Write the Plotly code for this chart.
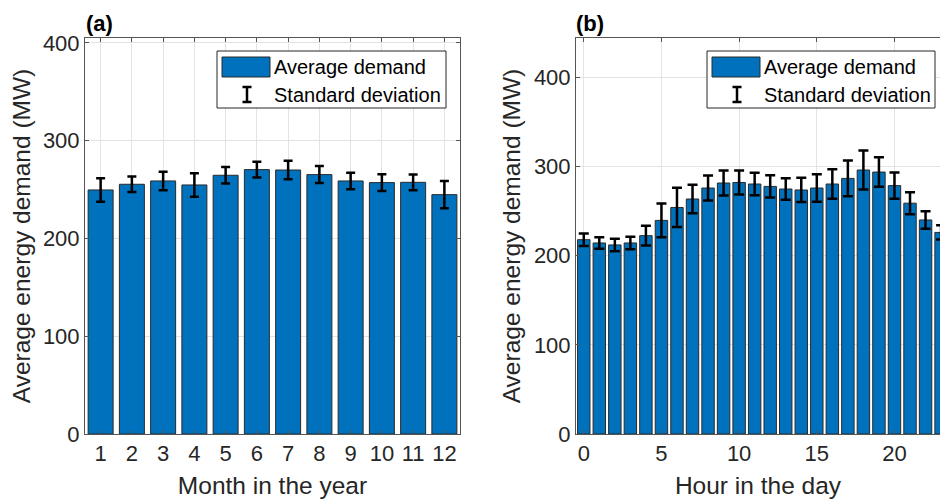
import plotly.graph_objects as go

# ---------------- data ----------------
months = list(range(1, 13))
month_mean = [249.6, 255.4, 258.8, 254.7, 264.6, 270.4, 270.0, 265.3, 258.8, 257.1, 257.4, 244.8]
month_std = [12.0, 8.0, 9.5, 12.0, 8.5, 8.0, 9.5, 8.7, 8.5, 8.5, 8.0, 14.0]

hours = list(range(0, 24))
hour_mean = [217.9, 214.2, 212.0, 214.2, 222.4, 239.5, 254.0, 263.5, 275.8, 281.4, 282.0, 280.3,
             277.6, 274.7, 273.6, 275.8, 280.3, 286.6, 296.0, 293.7, 278.5, 258.8, 240.0, 226.0]
hour_std = [7.0, 6.5, 7.0, 7.0, 11.0, 19.0, 22.0, 16.0, 14.0, 14.0, 13.5, 12.7,
            12.5, 12.0, 13.6, 15.5, 16.6, 20.0, 22.0, 16.5, 14.7, 12.3, 9.8, 8.0]

month_ticks = months
hour_ticks = [0, 5, 10, 15, 20]
y_ticks = [0, 100, 200, 300, 400]

legend_labels = ["Average demand", "Standard deviation"]
panel_labels = ["(a)", "(b)"]

# ---------------- style ----------------
W, H = 940, 499
FONT = "Liberation Sans, Arial, Helvetica, sans-serif"
BAR_COLOR = "#0072BD"
AX_COLOR = "#262626"
GRID = "#e3e3e3"


def px(x):
    return x / W


def py(y):
    return 1 - y / H


fig = go.Figure()

bar_style = dict(
    marker=dict(color=BAR_COLOR, line=dict(color="#2a2a2a", width=1)),
    width=0.8,
    showlegend=False,
)

fig.add_trace(go.Bar(
    x=months, y=month_mean, name=legend_labels[0],
    error_y=dict(type="data", array=month_std, color="black", thickness=2.5, width=4.5),
    xaxis="x", yaxis="y", **bar_style))

fig.add_trace(go.Bar(
    x=hours, y=hour_mean, name=legend_labels[0],
    error_y=dict(type="data", array=hour_std, color="black", thickness=2.5, width=5),
    xaxis="x2", yaxis="y2", **bar_style))

tickfont = dict(family=FONT, size=22, color=AX_COLOR)
titlefont = dict(family=FONT, size=24.5, color=AX_COLOR)

common_axis = dict(
    showline=True, linecolor="#555555", linewidth=1,
    ticks="inside", ticklen=4, tickcolor="#555555", tickwidth=1,
    showgrid=True, gridcolor=GRID, gridwidth=1,
    zeroline=False, tickfont=tickfont, fixedrange=True, automargin=False,
)

ydom = [py(434), py(38)]

fig.update_layout(
    width=W, height=H,
    margin=dict(l=0, r=0, t=0, b=0, autoexpand=False),
    paper_bgcolor="white", plot_bgcolor="white",
    bargap=0.2, showlegend=False,
    xaxis=dict(domain=[px(85), px(460)], range=[0.5, 12.5], tickvals=month_ticks,
               anchor="y", mirror="ticks",
               title=dict(text="Month in the year", font=titlefont),
               **common_axis),
    yaxis=dict(domain=ydom, range=[0, 405], tickvals=y_ticks, anchor="x", mirror="ticks",
               title=dict(text="Average energy demand (MW)", font=titlefont, standoff=5),
               **common_axis),
    xaxis2=dict(domain=[px(576), 1.0], range=[-0.5, 22.93], tickvals=hour_ticks,
                anchor="y2", mirror="ticks",
                title=dict(text="Hour in the day", font=titlefont),
                **common_axis),
    yaxis2=dict(domain=ydom, range=[0, 444], tickvals=y_ticks, anchor="x2", mirror=False,
                title=dict(text="Average energy demand (MW)", font=titlefont, standoff=6),
                **common_axis),
)

# ---------------- panel labels ----------------
for lab, xpix in zip(panel_labels, [84, 574]):
    fig.add_annotation(text="<b>%s</b>" % lab, x=px(xpix), y=py(23), xref="paper", yref="paper",
                       xanchor="left", yanchor="middle", showarrow=False,
                       font=dict(family=FONT, size=22, color="black"))

# ---------------- manual legends (MATLAB style) ----------------
def add_legend(x0, y0, x1, y1):
    fig.add_shape(type="rect", xref="paper", yref="paper",
                  x0=px(x0), x1=px(x1), y0=py(y0), y1=py(y1),
                  line=dict(color="#262626", width=1), fillcolor="white", layer="above")
    fig.add_shape(type="rect", xref="paper", yref="paper",
                  x0=px(x0 + 5), x1=px(x0 + 53), y0=py(y0 + 6), y1=py(y0 + 26),
                  line=dict(color="#2a2a2a", width=1), fillcolor=BAR_COLOR, layer="above")
    cx = x0 + 30
    ytop, ybot = y0 + 36, y0 + 51
    fig.add_shape(type="line", xref="paper", yref="paper", x0=px(cx), x1=px(cx),
                  y0=py(ytop), y1=py(ybot), line=dict(color="black", width=2.5), layer="above")
    for yy in (ytop, ybot):
        fig.add_shape(type="line", xref="paper", yref="paper", x0=px(cx - 4.5), x1=px(cx + 4.5),
                      y0=py(yy), y1=py(yy), line=dict(color="black", width=2.5), layer="above")
    for lab, yy in zip(legend_labels, [y0 + 16, y0 + 44]):
        fig.add_annotation(text=lab, x=px(x0 + 55), y=py(yy), xref="paper", yref="paper",
                           xanchor="left", yanchor="middle", showarrow=False,
                           font=dict(family=FONT, size=20, color="black"))


add_legend(217, 51, 446, 108)
add_legend(707, 51, 935, 108)

fig.write_html("out.html", config={"displayModeBar": False},
               post_script="document.body.style.margin='0';document.body.style.overflow='hidden';")
